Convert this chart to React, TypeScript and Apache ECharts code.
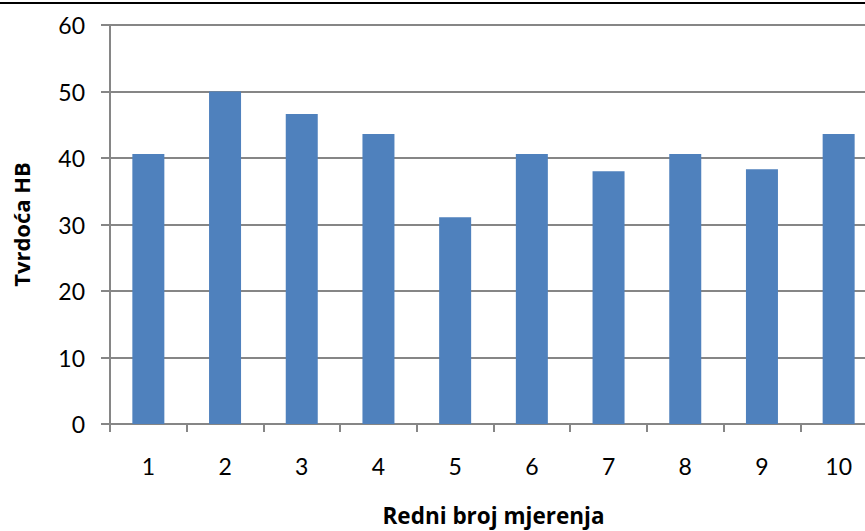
import React, { useEffect, useRef } from "react";
import * as echarts from "echarts";

const categories = ["1", "2", "3", "4", "5", "6", "7", "8", "9", "10"];
const hardness = [40.6, 50, 46.6, 43.6, 31.1, 40.6, 38.0, 40.6, 38.3, 43.6];
const yMin = 0;
const yMax = 60;
const yStep = 10;

export default function App() {
  const ref = useRef<HTMLDivElement>(null);
  useEffect(() => {
    if (!ref.current) return;
    const chart = echarts.init(ref.current, null, { renderer: "svg" });
    const font = "Lato, 'Open Sans', sans-serif";
    const nameFont = "'Open Sans', Lato, sans-serif";
    chart.setOption({
      animation: false,
      backgroundColor: "#ffffff",
      grid: {
        left: 110,
        right: -12,
        top: 25,
        bottom: 107,
        containLabel: false,
        outerBoundsMode: "none",
      },
      graphic: [
        {
          type: "line",
          shape: { x1: 0, y1: 3, x2: 865, y2: 3 },
          style: { stroke: "#000000", lineWidth: 2 },
        },
      ],
      xAxis: {
        type: "category",
        data: categories,
        boundaryGap: true,
        name: "Redni broj mjerenja",
        nameLocation: "middle",
        nameGap: 80,
        nameTextStyle: { fontFamily: nameFont, fontSize: 22.5, fontWeight: "bold", color: "#000" },
        axisLine: { lineStyle: { color: "#868686", width: 2 } },
        axisTick: { show: true, length: 8, lineStyle: { color: "#868686", width: 2 } },
        axisLabel: { margin: 30, fontFamily: font, fontSize: 23, color: "#000" },
        splitLine: { show: false },
      },
      yAxis: {
        type: "value",
        min: yMin,
        max: yMax,
        interval: yStep,
        name: "Tvrdoća HB",
        nameLocation: "middle",
        nameGap: 78,
        nameRotate: 90,
        nameTextStyle: { fontFamily: nameFont, fontSize: 22, fontWeight: "bold", color: "#000" },
        axisLine: { show: true, lineStyle: { color: "#868686", width: 2 } },
        axisTick: { show: true, inside: false, length: 9, lineStyle: { color: "#868686", width: 2 } },
        axisLabel: { margin: 25, fontFamily: font, fontSize: 23, color: "#000" },
        splitLine: { show: true, lineStyle: { color: "#868686", width: 2 } },
      },
      series: [
        {
          type: "bar",
          data: hardness,
          barWidth: 32,
          itemStyle: { color: "#4F81BD" },
        },
      ],
    });
    return () => chart.dispose();
  }, []);
  return (
    <div
      ref={ref}
      style={{ position: "fixed", left: 0, top: 0, width: 865, height: 531 }}
    />
  );
}
